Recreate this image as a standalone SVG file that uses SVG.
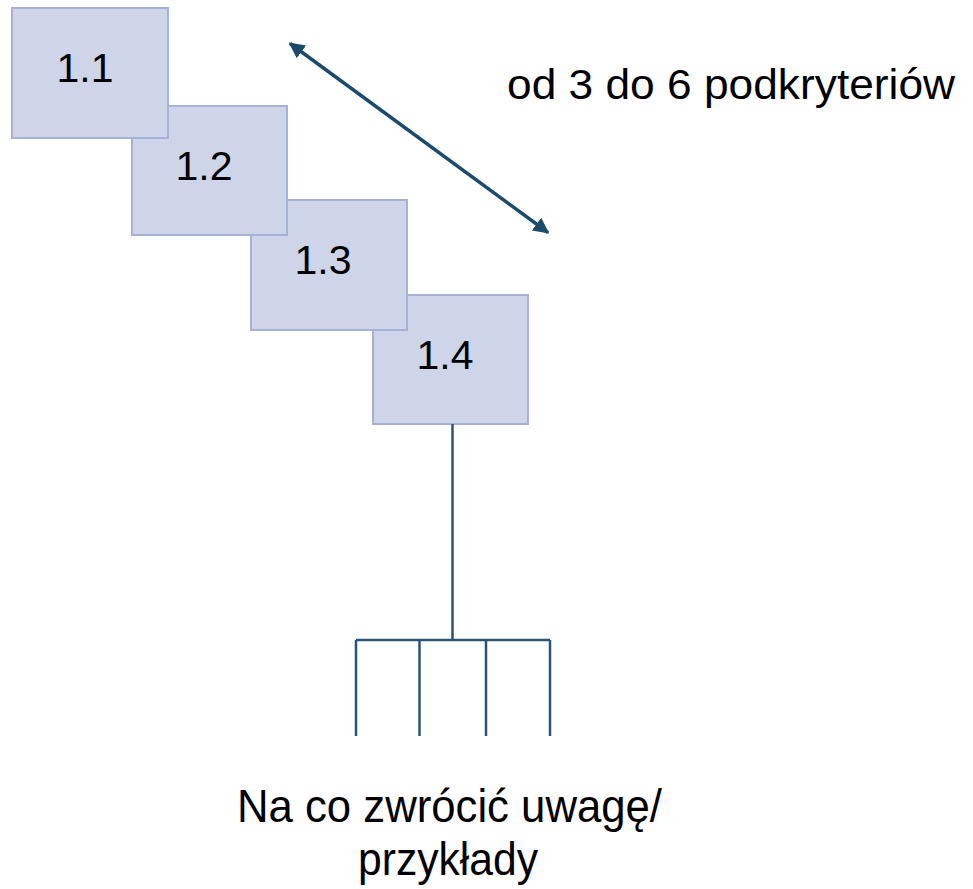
<svg xmlns="http://www.w3.org/2000/svg" width="973" height="889" viewBox="0 0 973 889">
<style>
.box{fill:#CFD5E8;stroke:#A6B1D8;stroke-width:2}
.lbl{font-family:"Liberation Sans",Arial,sans-serif;font-size:41px;fill:#000;text-anchor:middle}
.txt{font-family:"Liberation Sans",Arial,sans-serif;font-size:43px;fill:#000}
.txb{font-family:"Liberation Sans",Arial,sans-serif;font-size:46px;fill:#000}
.tree{stroke:#2A5476;stroke-width:2.5;fill:none}
.arr{stroke:#1B4A6B;stroke-width:3.5;fill:none}
</style>
<defs>
<marker id="ah" viewBox="0 0 10 10" refX="9" refY="5" markerWidth="4.5" markerHeight="4.5" orient="auto-start-reverse" markerUnits="strokeWidth">
<path d="M0,0 L10,5 L0,10 z" fill="#1B4A6B"/>
</marker>
</defs>
<rect width="973" height="889" fill="#fff"/>
<g id="n14"><rect class="box" x="373" y="295" width="155" height="129"/><text class="lbl" x="445" y="369">1.4</text></g>
<g id="n13"><rect class="box" x="251" y="200" width="156" height="130"/><text class="lbl" x="323" y="274">1.3</text></g>
<g id="n12"><rect class="box" x="132" y="106" width="155" height="129"/><text class="lbl" x="204" y="180">1.2</text></g>
<g id="n11"><rect class="box" x="12" y="8" width="156" height="130"/><text class="lbl" x="85" y="82">1.1</text></g>
<g id="connectors">
<line class="arr" x1="290" y1="43.5" x2="548" y2="232.5" marker-start="url(#ah)" marker-end="url(#ah)"/>
<path class="tree" d="M452.5,424 V640 M356,640 H550 M356,640 V736 M419.5,640 V736 M486,640 V736 M550,640 V736"/>
</g>
<g id="labels">
<text class="txt" x="507" y="99" textLength="448" lengthAdjust="spacingAndGlyphs">od 3 do 6 podkryteriów</text>
<text class="txb" x="237" y="822" textLength="425" lengthAdjust="spacingAndGlyphs">Na co zwrócić uwagę/</text>
<text class="txb" x="358" y="875" textLength="180" lengthAdjust="spacingAndGlyphs">przykłady</text>
</g>
</svg>
